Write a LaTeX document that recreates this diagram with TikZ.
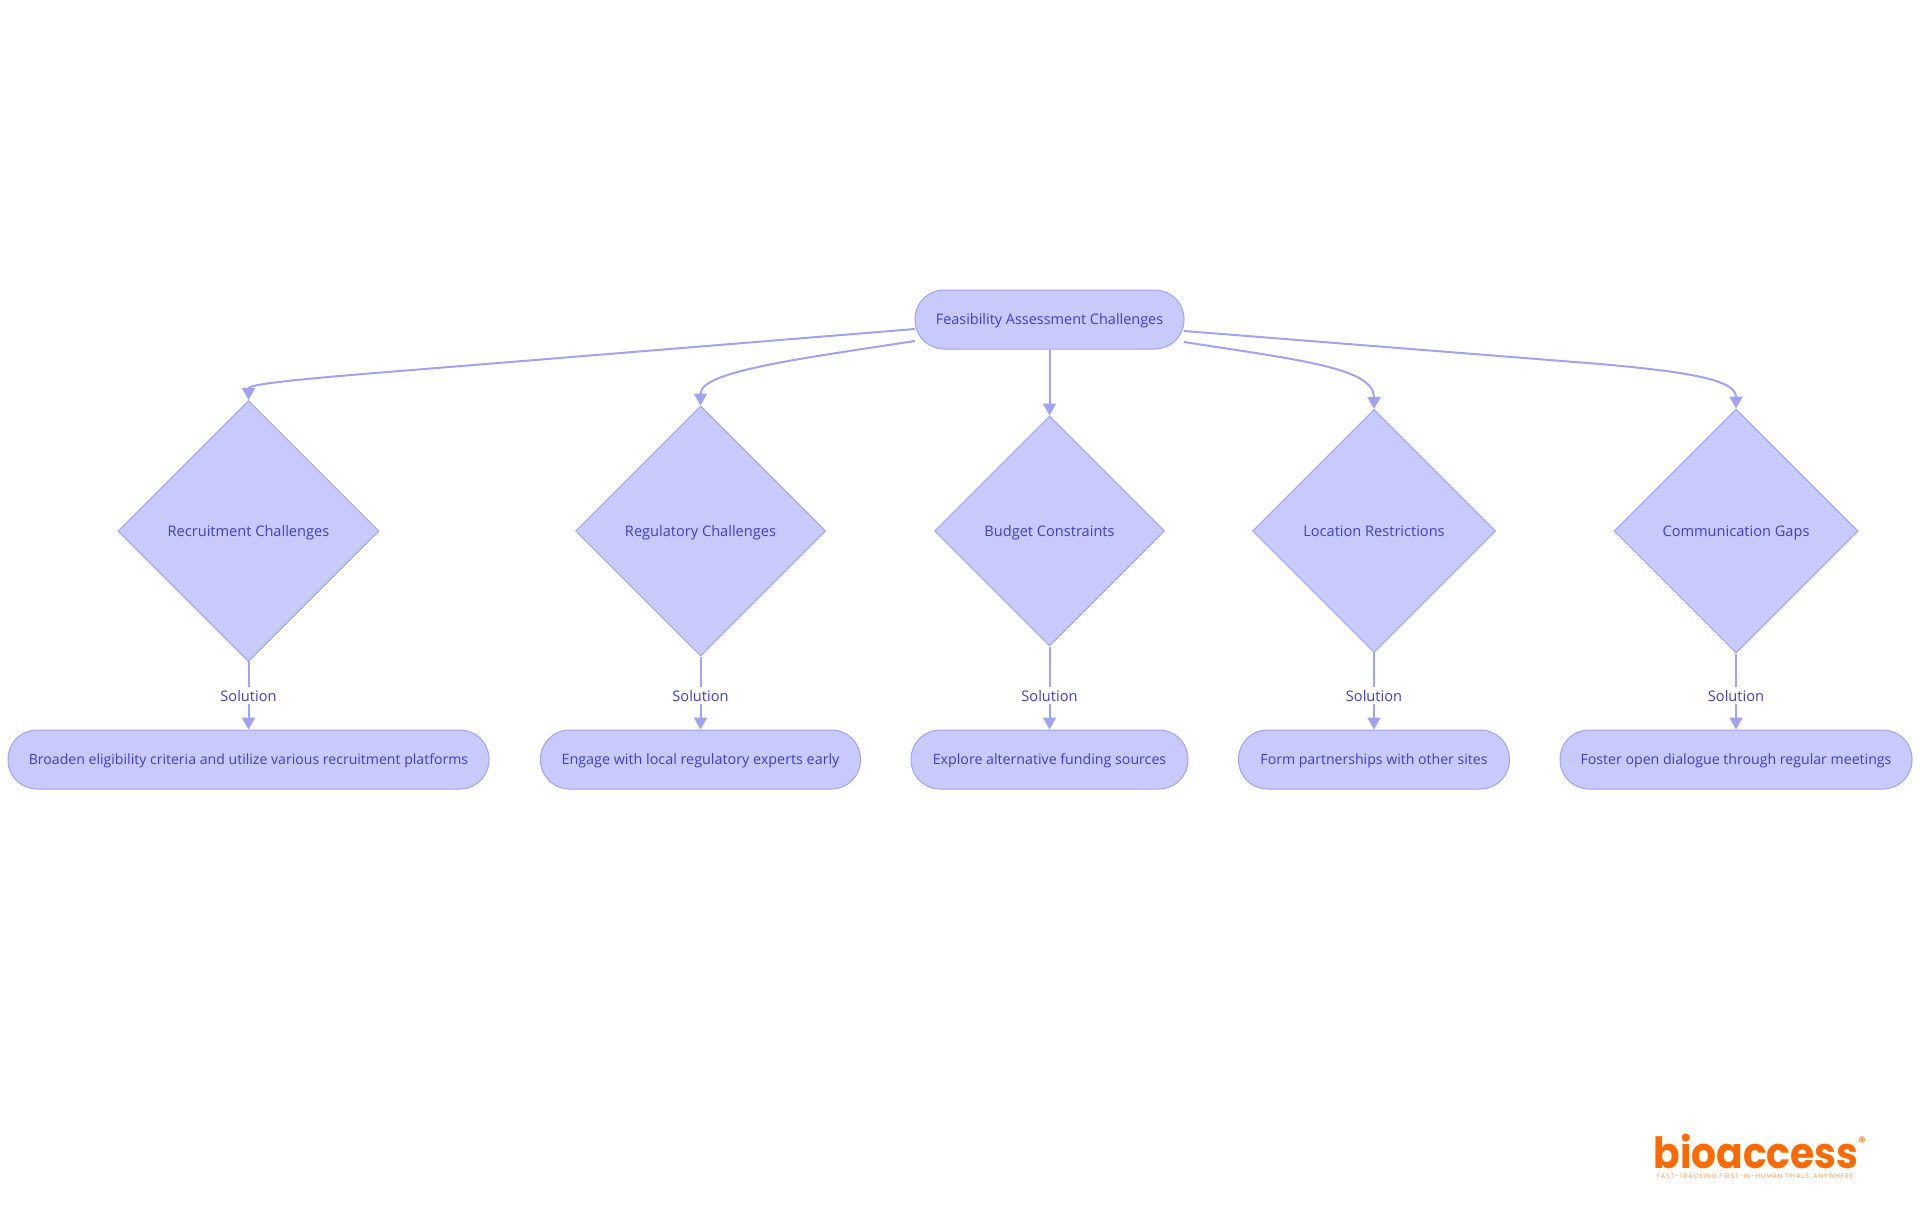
\documentclass[tikz,border=0pt]{standalone}
\usepackage{fontspec}
\setmainfont{Open Sans}
\newfontfamily\logofont{Poppins}
\newfontfamily\tagfont[LetterSpace=12]{Poppins}
\usetikzlibrary{shapes.geometric,arrows.meta}
\definecolor{nodefill}{HTML}{C8CAFC}
\definecolor{nodeline}{HTML}{A0A3F5}
\definecolor{nodetext}{HTML}{3D3FD0}
\definecolor{logoorange}{HTML}{FF6A00}
\tikzset{x=1pt,y=-1pt,
  fs/.style={font=\fontsize{#1}{18}\selectfont},
  base/.style={fill=nodefill,draw=nodeline,line width=1pt,text=nodetext,fs=14.6,inner sep=0pt,text height=12.5pt,text depth=1.5pt},
  pill/.style={base,rounded corners=29pt,minimum height=59pt,text height=11.5pt,text depth=2.5pt},
  dia/.style={base,diamond,aspect=1,minimum width=#1,minimum height=#1},
  link/.style={draw=nodeline,line width=2pt,-{Triangle[length=12pt,width=13pt]}},
  sol/.style={text=nodetext,fs=14.6,fill=white,inner xsep=1pt,inner ysep=1.5pt,text height=12.5pt,text depth=1.5pt},
}
\begin{document}
\begin{tikzpicture}
\useasboundingbox (0,0) rectangle (1920,1215);
\node[pill,minimum width=269pt,fs=14.45] (root) at (1049.5,319.5) {Feasibility Assessment Challenges};
\node[dia=261pt] (d1) at (248.5,531) {Recruitment Challenges};
\node[dia=250pt] (d2) at (700.5,531) {Regulatory Challenges};
\node[dia=230pt] (d3) at (1049.5,531) {Budget Constraints};
\node[dia=243pt] (d4) at (1374,531) {Location Restrictions};
\node[dia=244pt] (d5) at (1736,531) {Communication Gaps};
\node[pill,minimum width=481pt,fs=14.1] (s1) at (248.5,759.5) {Broaden eligibility criteria and utilize various recruitment platforms};
\node[pill,minimum width=320pt,fs=14.35] (s2) at (700.5,759.5) {Engage with local regulatory experts early};
\node[pill,minimum width=277pt,fs=14.2] (s3) at (1049.5,759.5) {Explore alternative funding sources};
\node[pill,minimum width=271pt,fs=14.1] (s4) at (1374,759.5) {Form partnerships with other sites};
\node[pill,minimum width=352pt,fs=14.15] (s5) at (1736,759.5) {Foster open dialogue through regular meetings};
\coordinate (r1) at (915,329);
\coordinate (r2) at (915,341);
\coordinate (r4) at (1184,342);
\coordinate (r5) at (1184,331);
\path[link] (r1) -- (400,371) .. controls (300,379) and (248.5,384) .. (d1.north);
\path[link] (r2) .. controls (790,360) and (700.5,372) .. (d2.north);
\path[link] (root.south) -- (d3.north);
\path[link] (r4) .. controls (1300,360) and (1374,368) .. (d4.north);
\path[link] (r5) -- (1600,364) .. controls (1690,372) and (1736,380) .. (d5.north);
\foreach \i in {1,...,5}{
  \path[link] (d\i.south) -- (s\i.north);
  \node[sol] (l\i) at (d\i.south |- 0,695.5) {Solution};
}
\node[text=logoorange,font=\logofont\bfseries\fontsize{43}{50}\selectfont,inner sep=0pt,anchor=base,xscale=.91] (logo) at (1756,1168) {bioaccess};
\node[text=logoorange!65,font=\tagfont\fontsize{6.5}{8}\selectfont,inner sep=0pt] (tag) at (1755,1177) {FAST-TRACKING FIRST-IN-HUMAN TRIALS, ANYWHERE};
\node[text=logoorange,font=\logofont\fontsize{15}{16}\selectfont,inner sep=0pt] (reg) at (1862,1142) {®};
\end{tikzpicture}
\end{document}
